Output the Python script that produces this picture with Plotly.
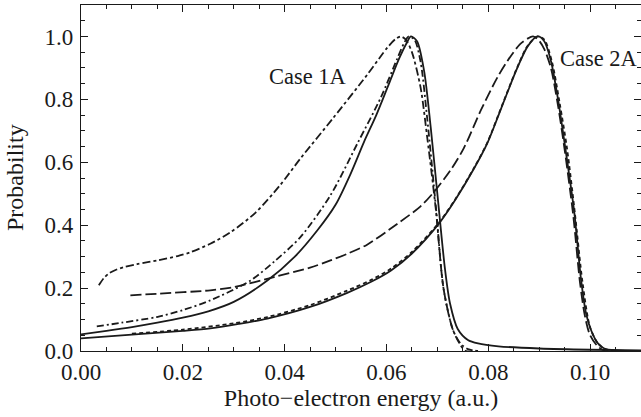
import plotly.graph_objects as go

# ---------------- data ----------------
c1_solid_x = [0.0, 0.005, 0.01, 0.015, 0.02, 0.025, 0.03, 0.0366, 0.042, 0.0464, 0.05, 0.053, 0.0556, 0.058,
              0.0605, 0.0625, 0.064, 0.0648, 0.066, 0.0674, 0.0687, 0.0703, 0.0715, 0.0725, 0.074, 0.076,
              0.078, 0.082, 0.09, 0.1, 0.11]
c1_solid_y = [0.053, 0.064, 0.076, 0.09, 0.106, 0.126, 0.156, 0.224, 0.3, 0.383, 0.465, 0.565, 0.665, 0.75,
              0.85, 0.93, 0.98, 1.0, 0.985, 0.89, 0.71, 0.45, 0.26, 0.15, 0.07, 0.035,
              0.024, 0.015, 0.008, 0.004, 0.002]

c1_dashdot_x = [0.0031, 0.008, 0.0149, 0.020, 0.0254, 0.0333, 0.038, 0.0431, 0.049, 0.0543, 0.0589, 0.062,
                0.0635, 0.0644, 0.0655, 0.0667, 0.068, 0.0697, 0.0712, 0.073, 0.0745, 0.076, 0.078]
c1_dashdot_y = [0.078, 0.09, 0.108, 0.13, 0.161, 0.224, 0.285, 0.362, 0.495, 0.66, 0.806, 0.925,
                0.98, 1.0, 0.99, 0.92, 0.74, 0.46, 0.2, 0.07, 0.025, 0.006, 0.0]

c1_dash_x = [0.0035, 0.0045, 0.0055, 0.007, 0.0085, 0.011, 0.015, 0.019, 0.0215, 0.0254, 0.0294, 0.0343, 0.039,
             0.0432, 0.0496, 0.0563, 0.0602, 0.0618, 0.0628, 0.0638, 0.065, 0.0667, 0.068, 0.0697, 0.0712, 0.073,
             0.0745, 0.0756, 0.078]
c1_dash_y = [0.209, 0.232, 0.247, 0.259, 0.267, 0.276, 0.288, 0.302, 0.314, 0.341, 0.378, 0.44, 0.525,
             0.614, 0.742, 0.88, 0.965, 0.992, 1.0, 0.99, 0.95, 0.838, 0.68, 0.45, 0.2, 0.07,
             0.02, 0.0, 0.0]

c2_solid_x = [0.0, 0.01, 0.02, 0.0254, 0.031, 0.0366, 0.045, 0.0523, 0.057, 0.0609, 0.065, 0.0703, 0.0735,
              0.0772, 0.0798, 0.0825, 0.0857, 0.0878, 0.0897, 0.091, 0.0923, 0.0937, 0.095, 0.0969, 0.0982,
              0.0992, 0.1002, 0.1015, 0.1028, 0.105, 0.11]
c2_solid_y = [0.04, 0.052, 0.064, 0.072, 0.086, 0.103, 0.14, 0.185, 0.22, 0.256, 0.31, 0.405, 0.48,
              0.58, 0.66, 0.77, 0.9, 0.97, 1.0, 0.985, 0.923, 0.80, 0.66, 0.44, 0.23,
              0.12, 0.066, 0.025, 0.008, 0.002, 0.0]

c2_dot_x = [0.01, 0.02, 0.03, 0.0366, 0.045, 0.0523, 0.057, 0.0609, 0.065, 0.0703, 0.0735, 0.0772, 0.0798,
            0.0825, 0.0857, 0.0878, 0.0897, 0.091, 0.0925, 0.094, 0.0955, 0.097, 0.0985, 0.1, 0.1015, 0.103,
            0.105]
c2_dot_y = [0.055, 0.068, 0.088, 0.108, 0.146, 0.192, 0.226, 0.262, 0.315, 0.408, 0.482, 0.582, 0.662,
            0.772, 0.902, 0.972, 1.0, 0.99, 0.92, 0.79, 0.64, 0.44, 0.22, 0.075, 0.025, 0.006,
            0.0]

c2_dash_x = [0.0097, 0.015, 0.0254, 0.030, 0.0379, 0.045, 0.049, 0.0523, 0.0562, 0.0621, 0.0667, 0.0693, 0.0726,
             0.0752, 0.0785, 0.0818, 0.0838, 0.0862, 0.0877, 0.0888, 0.0898, 0.091, 0.0923, 0.0937, 0.095,
             0.0967, 0.098, 0.099, 0.1, 0.1015, 0.103, 0.11]
c2_dash_y = [0.177, 0.182, 0.193, 0.203, 0.235, 0.265, 0.288, 0.309, 0.338, 0.404, 0.46, 0.505, 0.575,
             0.645, 0.764, 0.87, 0.923, 0.975, 0.993, 1.0, 0.99, 0.96, 0.90, 0.78, 0.64,
             0.43, 0.22, 0.11, 0.05, 0.015, 0.0, 0.0]

case_labels = ["Case 1A", "Case 2A"]
case_label_x = [0.0445, 0.1018]
case_label_y = [0.872, 0.931]

x_ticks = [0.00, 0.02, 0.04, 0.06, 0.08, 0.10]
y_ticks = [0.0, 0.2, 0.4, 0.6, 0.8, 1.0]

# ---------------- figure ----------------
FONT = "Liberation Serif"
INK = "#1a1a1a"
L, R, T, B = 81, 0, 5, 66
W, H = 641, 417

fig = go.Figure()

def add(x, y, dash, width=1.8):
    fig.add_trace(go.Scatter(x=x, y=y, mode="lines",
                             line=dict(color=INK, width=width, dash=dash, shape="spline", smoothing=0.8),
                             showlegend=False, hoverinfo="skip"))

add(c1_dash_x, c1_dash_y, "8px,3px,3px,3px")
add(c1_dashdot_x, c1_dashdot_y, "7px,3px,2px,3px")
add(c1_solid_x, c1_solid_y, "solid")
add(c2_dash_x, c2_dash_y, "11px,4px")
add(c2_dot_x, c2_dot_y, "4px,3px")
add(c2_solid_x, c2_solid_y, "solid")

for t, x, y in zip(case_labels, case_label_x, case_label_y):
    fig.add_annotation(x=x, y=y, text=t, showarrow=False, xref="x", yref="y",
                       font=dict(family=FONT, size=22.5, color=INK))

# y-axis title placed as a rotated annotation
fig.add_annotation(text="Probability", textangle=-90, showarrow=False,
                   xref="paper", yref="paper", x=(15 - L) / (W - L - R), y=0.5,
                   xanchor="center", yanchor="middle",
                   font=dict(family=FONT, size=24, color=INK))

axis_common = dict(
    showline=True, linecolor=INK, linewidth=1.3, mirror="allticks",
    ticks="inside", ticklen=7, tickwidth=1, tickcolor=INK,
    showgrid=False, zeroline=False,
    tickfont=dict(family=FONT, size=23, color=INK),
)

fig.update_xaxes(range=[0, 0.11], tickvals=x_ticks, ticktext=[f"{v:.2f}" for v in x_ticks],
                 minor=dict(dtick=0.005, tick0=0, ticks="inside", ticklen=4, tickwidth=1, tickcolor=INK),
                 title=dict(text="Photo\u2212electron energy (a.u.)", font=dict(family=FONT, size=24, color=INK),
                            standoff=3),
                 **axis_common)
fig.update_yaxes(range=[0, 1.1], tickvals=y_ticks, ticktext=[f"{v:.1f}" for v in y_ticks],
                 minor=dict(dtick=0.05, tick0=0, ticks="inside", ticklen=4, tickwidth=1, tickcolor=INK),
                 ticklabelstandoff=2,
                 **axis_common)

fig.update_layout(width=W, height=H, margin=dict(l=L, r=R, t=T, b=B),
                  paper_bgcolor="white", plot_bgcolor="white")

fig.write_html("out.html")
